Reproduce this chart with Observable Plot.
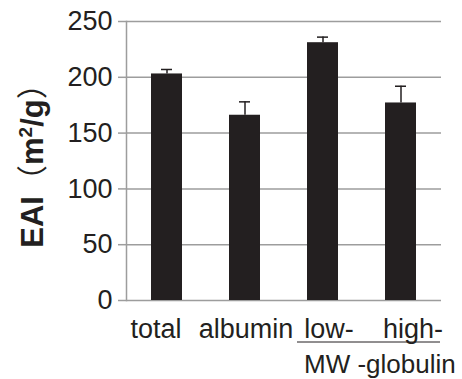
<!DOCTYPE html>
<html>
<head>
<meta charset="utf-8">
<script src="https://cdn.jsdelivr.net/npm/d3@7"></script>
<script src="https://cdn.jsdelivr.net/npm/@observablehq/plot@0.6"></script>
<style>
  html, body { margin: 0; padding: 0; background: #fff; }
  #chart svg { display: block; }
</style>
</head>
<body>
<div id="chart"></div>
<script>
const categories = ["total", "albumin", "low-", "high-"];
const values = [203, 166, 231, 177];
const errors = [4, 12, 5, 15];
const yTicks = [0, 50, 100, 150, 200, 250];
const yLabelMain = "EAI";
const yLabelUnit = ["（", "m", "2", "/g", "）"];
const groupLabel = "MW -globulin";

const data = categories.map((c, i) => ({cat: c, value: values[i], err: errors[i]}));
const FONT = "'Liberation Sans', Arial, Helvetica, sans-serif";
const DARK = "#231f20";
const GRID = "#9d9d9d";

const plot = Plot.plot({
  width: 462,
  height: 379,
  marginLeft: 126,
  marginRight: 21,
  marginTop: 21,
  marginBottom: 79,
  style: {fontFamily: FONT, background: "#fff", color: DARK},
  x: {domain: categories, paddingInner: 0.6, paddingOuter: 0.3, label: null},
  y: {domain: [0, 250], label: null},
  marks: [
    Plot.ruleY(yTicks, {stroke: GRID, strokeWidth: 1.5}),
    Plot.axisY(yTicks, {tickSize: 8, tickPadding: 6, fontSize: 27, stroke: GRID, strokeWidth: 1.5, fill: DARK, label: null}),
    Plot.frame({anchor: "left", stroke: GRID, strokeWidth: 1.5}),
    Plot.barY(data, {x: "cat", y: "value", fill: DARK}),
    Plot.ruleX(data, {x: "cat", y1: "value", y2: d => d.value + d.err, stroke: DARK, strokeWidth: 1.5}),
    Plot.tickY(data, {x: "cat", y: d => d.value + d.err, stroke: DARK, strokeWidth: 1.5, insetLeft: 10, insetRight: 10}),
    Plot.axisX({tickSize: 0, tickPadding: 18, fontSize: 27, fill: DARK, label: null})
  ]
});

document.getElementById("chart").appendChild(plot);

const svg = d3.select(plot);
const x = plot.scale("x");
const bw = x.bandwidth;
const lowStart = x.apply("low-");
const highEnd = x.apply("high-") + bw;

// nudge category labels horizontally as in the original layout
const labelNudge = [-11, 1, 6, 12];
svg.selectAll("text")
  .filter(function() { return categories.includes(this.textContent); })
  .each(function() {
    const i = categories.indexOf(this.textContent);
    d3.select(this).attr("dx", labelNudge[i]);
  });

// underline spanning low-/high-
svg.append("line")
  .attr("x1", lowStart - 10).attr("x2", highEnd + 24)
  .attr("y1", 342).attr("y2", 342)
  .attr("stroke", DARK).attr("stroke-width", 1);

svg.append("text")
  .attr("x", lowStart - 3).attr("y", 373)
  .attr("text-anchor", "start")
  .attr("font-family", FONT).attr("font-size", 26)
  .attr("fill", DARK)
  .text(groupLabel);

// y label
const yl = svg.append("text")
  .attr("transform", "translate(43,158) rotate(-90)")
  .attr("text-anchor", "middle")
  .attr("font-family", FONT + ", 'Noto Sans CJK JP'")
  .attr("font-size", 31)
  .attr("fill", DARK);
yl.append("tspan").attr("font-weight", "bold").text(yLabelMain);
yl.append("tspan").attr("font-weight", "normal").attr("font-family", "'Noto Sans CJK JP'").text(yLabelUnit[0]);
yl.append("tspan").attr("font-weight", "bold").text(yLabelUnit[1]);
yl.append("tspan").attr("font-weight", "bold").attr("font-size", 19).attr("dy", -11).text(yLabelUnit[2]);
yl.append("tspan").attr("font-weight", "bold").attr("dy", 11).text(yLabelUnit[3]);
yl.append("tspan").attr("font-weight", "normal").attr("font-family", "'Noto Sans CJK JP'").text(yLabelUnit[4]);
</script>
</body>
</html>
